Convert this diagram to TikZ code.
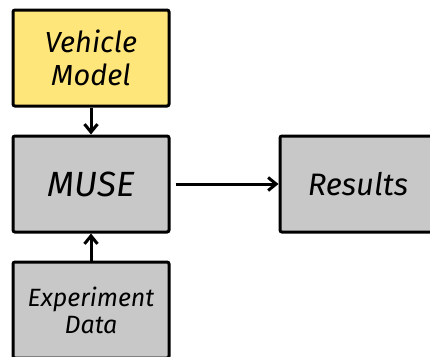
\documentclass[tikz,border=0pt]{standalone}
\usepackage{fontspec}
\setmainfont{Fira Sans}
\usepackage{tikz}
\usetikzlibrary{arrows.meta}
\definecolor{boxyellow}{HTML}{FFE67A}
\definecolor{boxgrey}{HTML}{C8C8C8}

\begin{document}
\begin{tikzpicture}[x=1pt,y=-1pt,
  block/.style={draw=black,line width=3pt,rounded corners=2pt,fill=boxgrey,
    minimum width=156pt,minimum height=96pt,align=center,font=\itshape},
  flow/.style={-{Straight Barb[length=8pt,width=13pt]},line width=3pt}]
\useasboundingbox (0,0) rectangle (430,356);
\clip (0,0) rectangle (430,356);
\node[block,fill=boxyellow,font=\itshape\fontsize{29}{33}\selectfont] (vm) at (91,58) {Vehicle\\Model};
\node[block,font=\itshape\fontsize{35}{40}\selectfont] (muse) at (91,184) {MUSE};
\node[block,font=\itshape\fontsize{31}{30}\selectfont] (res) at (358,184) {Results};
\node[block,font=\itshape\fontsize{25}{27}\selectfont] (exp) at (91,310) {Experiment\\Data};
% arrows between the blocks
\draw[flow] (vm) -- (muse);
\draw[flow] (exp) -- (muse);
\draw[flow] (muse.east) ++(5,0) coordinate (mo) (mo) -- (res);
\end{tikzpicture}
\end{document}
